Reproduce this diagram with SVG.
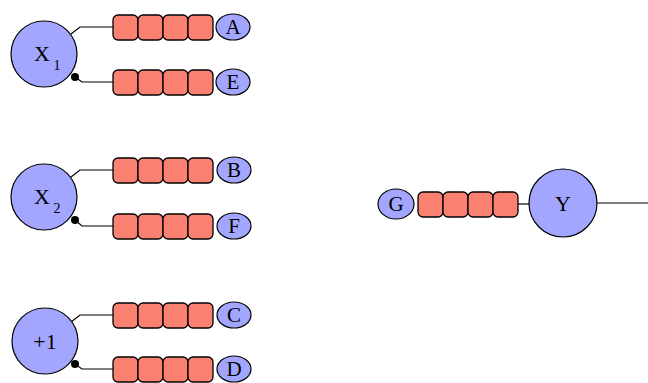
<svg xmlns="http://www.w3.org/2000/svg" width="648" height="383" viewBox="0 0 648 383">
<defs>
<style>
.big{fill:#a3a6ff;stroke:#000;stroke-width:1.2}
.lbl{fill:#a3a6ff;stroke:#000;stroke-width:1.2}
.seg{fill:#fa8072;stroke:#000;stroke-width:1.3}
.con{fill:none;stroke:#000;stroke-width:1.2}
.dot{fill:#000}
text{font-family:"Liberation Serif","DejaVu Serif",serif;fill:#000;text-anchor:middle}
.t1{font-size:22px}
.t2{font-size:21px}
.sub{font-size:14px}
</style>
<g id="chain">
<rect class="seg" x="0" y="0" width="25" height="25" rx="5"/>
<rect class="seg" x="25" y="0" width="25" height="25" rx="5"/>
<rect class="seg" x="50" y="0" width="25" height="25" rx="5"/>
<rect class="seg" x="75" y="0" width="25" height="25" rx="5"/>
</g>
</defs>
<g id="connectors">
<path class="con" d="M71 34 L80 27 H113"/>
<path class="con" d="M75 77 L82 82 H113"/>
<circle class="dot" cx="75" cy="77" r="4"/>
<path class="con" d="M71 177 L80 170 H113"/>
<path class="con" d="M75 220 L82 226 H113"/>
<circle class="dot" cx="75" cy="220" r="4"/>
<path class="con" d="M71 322 L80 315 H113"/>
<path class="con" d="M75 364 L82 369 H113"/>
<circle class="dot" cx="75" cy="364" r="4"/>
<path class="con" d="M518 204 H529"/>
<path class="con" d="M597 203 H648"/>
</g>
<g id="X1"><circle class="big" cx="44" cy="54" r="33"/><text class="t1" x="42" y="61">X</text><text class="sub" x="57" y="70">1</text></g>
<g id="X2"><circle class="big" cx="44" cy="197" r="33"/><text class="t1" x="42" y="204">X</text><text class="sub" x="57" y="213">2</text></g>
<g id="P1"><circle class="big" cx="45" cy="341" r="33"/><text class="t1" x="45" y="349">+1</text></g>
<g id="Y"><circle class="big" cx="563" cy="203" r="34"/><text class="t1" x="563" y="211">Y</text></g>
<g id="chainA"><use href="#chain" x="113" y="15"/></g>
<g id="chainE"><use href="#chain" x="113" y="70"/></g>
<g id="chainB"><use href="#chain" x="113" y="158"/></g>
<g id="chainF"><use href="#chain" x="113" y="214"/></g>
<g id="chainC"><use href="#chain" x="113" y="303"/></g>
<g id="chainD"><use href="#chain" x="113" y="357"/></g>
<g id="chainG"><use href="#chain" x="418" y="192"/></g>
<g id="A"><ellipse class="lbl" cx="233" cy="27" rx="17" ry="13"/><text class="t2" x="233" y="34">A</text></g>
<g id="E"><ellipse class="lbl" cx="233" cy="82" rx="17" ry="13"/><text class="t2" x="233" y="89">E</text></g>
<g id="B"><ellipse class="lbl" cx="234" cy="170" rx="17" ry="13"/><text class="t2" x="234" y="177">B</text></g>
<g id="F"><ellipse class="lbl" cx="234" cy="226" rx="17" ry="13"/><text class="t2" x="234" y="233">F</text></g>
<g id="C"><ellipse class="lbl" cx="234" cy="315" rx="17" ry="13"/><text class="t2" x="234" y="322">C</text></g>
<g id="D"><ellipse class="lbl" cx="234" cy="369" rx="17" ry="13"/><text class="t2" x="234" y="376">D</text></g>
<g id="G"><ellipse class="lbl" cx="396" cy="204" rx="18" ry="15"/><text class="t2" x="396" y="211">G</text></g>
</svg>
